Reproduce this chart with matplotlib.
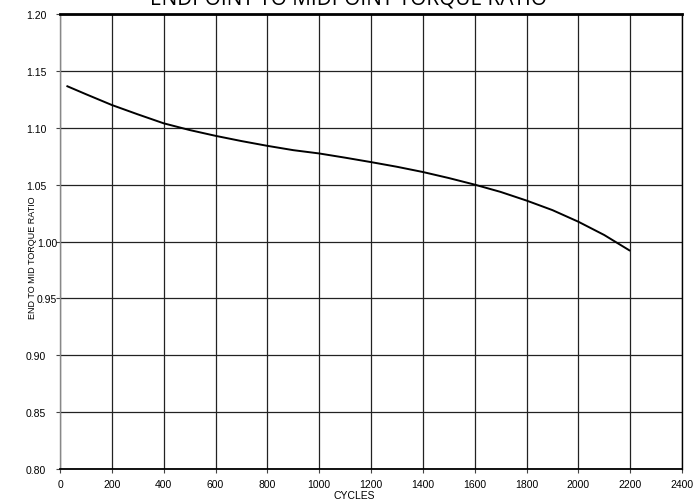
import matplotlib.pyplot as plt
from matplotlib.transforms import ScaledTranslation

# curve
cycles = [25, 100, 200, 300, 400, 500, 600, 700, 800, 900, 1000, 1100,
          1200, 1300, 1400, 1500, 1600, 1700, 1800, 1900, 2000, 2100, 2200]
ratio = [1.1368, 1.1295, 1.1200, 1.1118, 1.1039, 1.0980, 1.0929, 1.0883, 1.0841,
         1.0803, 1.0774, 1.0737, 1.0698, 1.0657, 1.0611, 1.0558, 1.0500, 1.0436,
         1.0360, 1.0276, 1.0174, 1.0057, 0.9918]

x_ticks = list(range(0, 2401, 200))
y_ticks = [0.80, 0.85, 0.90, 0.95, 1.00, 1.05, 1.10, 1.15, 1.20]

fig = plt.figure(figsize=(6.93, 5.02), dpi=100)
ax = fig.add_axes([60 / 693, 1 - 470 / 502, 622 / 693, 455 / 502])

ax.plot(cycles, ratio, color='black', linewidth=1.4,
        solid_joinstyle='round', solid_capstyle='butt')

ax.set_xlim(0, 2400)
ax.set_ylim(0.80, 1.20)
ax.set_xticks(x_ticks)
ax.set_yticks(y_ticks)
ax.set_yticklabels(['%.2f' % v for v in y_ticks])
ax.grid(True, color='#222222', linewidth=0.9)
ax.set_axisbelow(True)

ax.tick_params(labelsize=7.5, length=3, width=0.8, color='#444444')
ax.tick_params(axis='x', pad=4)
ax.tick_params(axis='y', pad=7)
for lab in ax.get_xticklabels() + ax.get_yticklabels():
    lab.set_family('Liberation Sans')

# in the reference the 1.00 and 0.95 labels sit right of the axis title
for lab in ax.get_yticklabels():
    if lab.get_text() in ('1.00', '0.95'):
        lab.set_transform(lab.get_transform() + ScaledTranslation(0.11, 0, fig.dpi_scale_trans))

ax.spines['top'].set_linewidth(2)
ax.spines['bottom'].set_linewidth(1.3)
ax.spines['left'].set_color('#888888')
ax.spines['left'].set_linewidth(1)
ax.spines['right'].set_linewidth(1)

ax.set_xlabel('CYCLES', fontsize=7.5, family='Liberation Sans')
ax.xaxis.set_label_coords((354 - 60) / 622, -(491 - 470) / 455)
ax.set_ylabel('END TO MID TORQUE RATIO', fontsize=6.5, family='Liberation Sans')
ax.yaxis.set_label_coords(-(60 - 37) / 622, (470 - 258) / 455)

# title is clipped at the top edge of the image in the reference
fig.text(348 / 693, 1 - 5 / 502, 'ENDPOINT TO MIDPOINT TORQUE RATIO',
         ha='center', va='baseline', fontsize=15, family='Open Sans')

fig.savefig('out.png', dpi=100)
